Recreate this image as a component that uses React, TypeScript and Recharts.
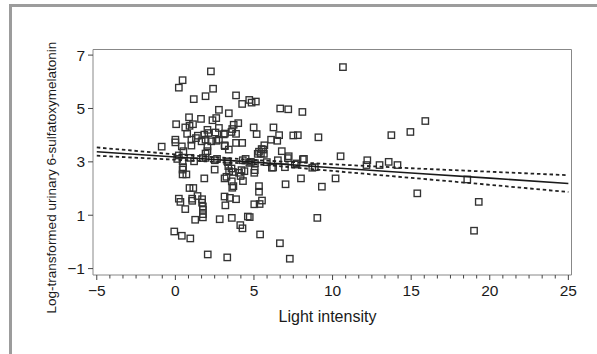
import React from 'react';
import { ScatterChart, Scatter, XAxis, YAxis, ReferenceArea } from 'recharts';

// Observations: [light intensity, log-transformed urinary 6-sulfatoxymelatonin]
const upperObservations: [number, number][] = [
  [2.26, 6.39], [0.46, 6.06], [0.22, 5.78], [2.4, 5.74], [10.66, 6.55], [1.17, 5.35], [1.92, 5.46],
  [3.86, 5.49], [4.25, 5.17], [4.7, 5.32], [5.12, 5.26], [4.85, 5.22], [2.77, 4.95], [3.4, 4.82],
  [6.67, 5.0], [7.18, 4.97], [8.08, 4.87], [15.9, 4.53], [14.95, 4.12], [13.74, 4.0],
  [0.87, 4.67], [1.63, 4.61], [2.6, 4.64], [0.05, 4.41], [1.12, 4.41], [0.63, 4.29], [0.9, 4.35],
  [3.71, 4.39], [4.0, 4.45], [4.98, 4.29], [6.24, 4.29], [2.77, 4.27], [2.04, 4.2], [3.62, 4.23],
  [2.36, 4.56], [0.75, 4.05], [1.43, 3.98], [1.84, 4.02], [2.1, 4.08], [2.55, 4.1], [3.08, 4.03],
  [3.86, 4.05], [5.17, 4.04], [6.6, 4.0], [7.5, 3.99], [7.79, 4.0], [9.1, 3.92], [3.15, 4.06],
  [3.57, 4.12],
];

const middleObservations: [number, number][] = [
  [0.0, 3.83], [1.02, 3.83], [1.31, 3.89], [1.67, 3.77], [1.92, 3.83], [2.28, 3.77], [2.6, 3.79],
  [2.77, 3.83], [3.86, 3.71], [4.25, 3.71], [6.09, 3.83], [6.48, 3.79], [0.0, 3.73], [-0.87, 3.57],
  [0.41, 3.58], [1.02, 3.61], [2.04, 3.58], [3.13, 3.62], [3.4, 3.46], [5.49, 3.48], [5.66, 3.62],
  [5.32, 3.38], [5.63, 3.3], [2.04, 3.4], [1.92, 3.31], [0.51, 3.4], [0.22, 3.24], [0.12, 3.11],
  [5.24, 3.3], [6.77, 3.4], [7.21, 3.21], [10.51, 3.21], [12.21, 3.06], [12.99, 2.88], [13.57, 3.0],
  [14.13, 2.88], [12.16, 2.88], [8.18, 3.11], [4.47, 3.11], [4.71, 2.96], [1.92, 3.15], [2.65, 3.11],
  [3.3, 3.02], [1.19, 3.02], [0.46, 3.02], [0.95, 3.15], [3.15, 3.59], [5.59, 3.46], [5.44, 3.31],
  [1.75, 3.14], [2.51, 3.06], [3.34, 2.99], [4.29, 3.06], [5.06, 2.95], [5.82, 2.99], [6.52, 3.06],
  [7.16, 3.14], [8.11, 3.1], [8.87, 2.8], [7.71, 2.94], [4.8, 3.0], [3.57, 2.75], [4.21, 2.69],
  [6.22, 2.79],
];

const lowerObservations: [number, number][] = [
  [3.37, 2.84], [5.05, 2.69], [5.02, 2.59], [2.5, 2.71], [3.42, 2.65], [3.66, 2.62], [4.05, 2.59],
  [4.39, 2.65], [4.15, 2.47], [4.3, 2.28], [3.25, 2.44], [0.49, 2.8], [0.46, 2.71], [0.46, 2.53],
  [0.7, 2.53], [6.14, 2.78], [6.97, 2.8], [7.6, 2.9], [8.71, 2.78], [3.13, 2.38], [1.84, 2.38],
  [3.59, 2.27], [3.69, 2.09], [3.62, 2.03], [7.01, 2.16], [7.99, 2.38], [10.19, 2.38], [5.32, 2.09],
  [5.32, 1.88], [9.32, 2.07], [18.57, 2.34], [15.39, 1.82], [19.3, 1.5], [0.9, 2.02], [1.14, 2.02],
  [1.41, 1.72], [1.7, 1.6], [1.7, 1.47], [1.75, 1.33], [1.75, 1.2], [1.75, 1.04], [1.75, 0.92],
  [0.22, 1.62], [0.32, 1.5], [1.07, 1.62], [1.07, 1.54], [0.63, 1.23], [1.26, 0.83], [3.13, 1.7],
  [3.47, 1.65], [3.86, 1.6], [3.18, 1.37], [5.02, 1.41], [5.36, 1.42], [5.51, 1.55], [2.82, 0.85],
  [3.59, 0.9], [4.61, 0.95], [4.73, 0.93], [4.13, 0.63], [4.27, 0.51], [9.03, 0.9], [-0.07, 0.39],
  [0.41, 0.23], [0.95, 0.13], [5.39, 0.28], [6.65, -0.05], [2.06, -0.47], [3.3, -0.58], [7.28, -0.63],
  [19.0, 0.42],
];

// Regression line and confidence limits, read at these x values
const fitX = [-5, 0, 5, 10, 15, 20, 25];
const fitY = [3.38, 3.18, 2.99, 2.78, 2.58, 2.39, 2.19];
const upperY = [3.54, 3.28, 3.07, 2.91, 2.76, 2.63, 2.5];
const lowerY = [3.23, 3.08, 2.92, 2.66, 2.4, 2.14, 1.87];

const majorXTicks = [-5, 0, 5, 10, 15, 20, 25];
const minorXTicks = [
  -4.1667, -3.3333, -2.5, -1.6667, -0.8333, 0.8333, 1.6667, 2.5, 3.3333, 4.1667,
  5.8333, 6.6667, 7.5, 8.3333, 9.1667, 10.8333, 11.6667, 12.5, 13.3333, 14.1667,
  15.8333, 16.6667, 17.5, 18.3333, 19.1667, 20.8333, 21.6667, 22.5, 23.3333, 24.1667,
];
const yTicks = [-1, 1, 3, 5, 7];

const xDomain: [number, number] = [-5.24, 25.2];
const yDomain: [number, number] = [-1.24, 7.21];

const FONT = '"Liberation Sans", Arial, Helvetica, sans-serif';

const allObservations = [...upperObservations, ...middleObservations, ...lowerObservations].map(
  ([x, y]) => ({ x, y })
);
const toSeries = (ys: number[]) => fitX.map((x, i) => ({ x, y: ys[i] }));
const fitData = toSeries(fitY);
const upperData = toSeries(upperY);
const lowerData = toSeries(lowerY);

const fmt = (v: number) => (v < 0 ? '\u2212' + Math.abs(v) : String(v));

const SquareMarker = (props: any) => {
  const { cx, cy } = props;
  if (cx == null || cy == null) return <g />;
  return (
    <rect x={cx - 3.2} y={cy - 3.2} width={6.4} height={6.4} fill="none" stroke="#333" strokeWidth={1.35} />
  );
};

const NoMarker = () => <g />;

const XTick = (props: any) => {
  const { x, y, payload } = props;
  const v = payload.value as number;
  const isMajor = majorXTicks.some((t) => Math.abs(t - v) < 1e-6);
  return (
    <g>
      <line x1={x} x2={x} y1={y} y2={y + (isMajor ? 5 : 3.5)} stroke="#444" strokeWidth={1} />
      {isMajor && (
        <text x={x} y={y + 21} textAnchor="middle" fontSize={15.5} fill="#1a1a1a" fontFamily={FONT}>
          {fmt(v)}
        </text>
      )}
    </g>
  );
};

export default function App() {
  return (
    <div style={{ position: 'absolute', left: 0, top: 0, width: 597, height: 354, background: '#fff', overflow: 'hidden' }}>
      <div
        style={{
          position: 'absolute',
          left: 9,
          top: 4,
          width: 600,
          height: 360,
          borderTop: '3px solid #9c9c9c',
          borderLeft: '3px solid #9c9c9c',
          boxSizing: 'border-box',
        }}
      />
      <div style={{ position: 'absolute', left: 0, top: 0 }}>
        <ScatterChart width={597} height={354} margin={{ top: 49.5, right: 25.5, bottom: 39, left: 33 }}>
          <XAxis
            type="number"
            dataKey="x"
            domain={xDomain}
            allowDataOverflow
            ticks={[...majorXTicks, ...minorXTicks].sort((a, b) => a - b)}
            interval={0}
            tick={<XTick />}
            tickLine={false}
            tickSize={0}
            tickMargin={0}
            axisLine={false}
            height={40}
          />
          <YAxis
            type="number"
            dataKey="y"
            domain={yDomain}
            allowDataOverflow
            ticks={yTicks}
            interval={0}
            tickFormatter={fmt}
            tickSize={5}
            tickMargin={3}
            tickLine={{ stroke: '#444' }}
            axisLine={false}
            width={60}
            tick={{ fontSize: 15.5, fill: '#1a1a1a', fontFamily: FONT }}
          />
          <ReferenceArea
            x1={xDomain[0]}
            x2={xDomain[1]}
            y1={yDomain[0]}
            y2={yDomain[1]}
            fill="none"
            fillOpacity={0}
            stroke="#888"
            strokeWidth={1}
          />
          <Scatter data={allObservations} shape={<SquareMarker />} isAnimationActive={false} />
          <Scatter
            data={upperData}
            shape={<NoMarker />}
            line={{ stroke: '#222', strokeWidth: 1.8, strokeDasharray: '3.5 2.8' }}
            isAnimationActive={false}
          />
          <Scatter
            data={lowerData}
            shape={<NoMarker />}
            line={{ stroke: '#222', strokeWidth: 1.8, strokeDasharray: '3.5 2.8' }}
            isAnimationActive={false}
          />
          <Scatter
            data={fitData}
            shape={<NoMarker />}
            line={{ stroke: '#1a1a1a', strokeWidth: 1.6 }}
            isAnimationActive={false}
          />
        </ScatterChart>
      </div>
      <svg
        width={597}
        height={354}
        style={{ position: 'absolute', left: 0, top: 0, pointerEvents: 'none' }}
      >
        <text x={327.5} y={321.5} textAnchor="middle" fontSize={16} fill="#1a1a1a" fontFamily={FONT}>
          Light intensity
        </text>
        <text
          transform="translate(56,177.6) rotate(-90)"
          textAnchor="middle"
          fontSize={13.5}
          fill="#1a1a1a"
          fontFamily={FONT}
        >
          Log-transformed urinary 6-sulfatoxymelatonin
        </text>
      </svg>
    </div>
  );
}
